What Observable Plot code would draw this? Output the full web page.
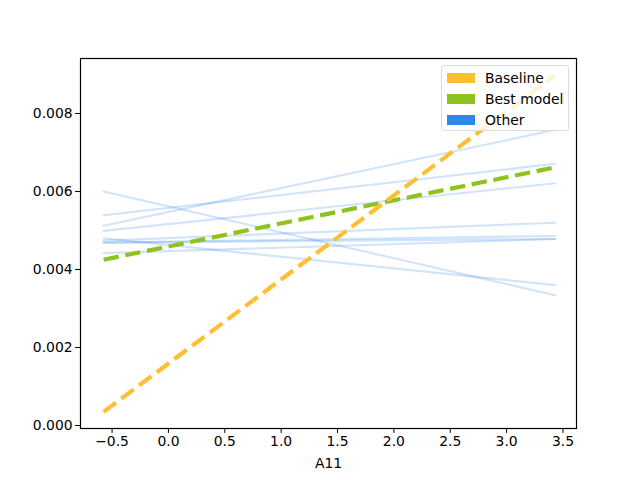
<!DOCTYPE html>
<html><head><meta charset="utf-8">
<script src="https://cdn.jsdelivr.net/npm/d3@7"></script>
<script src="https://cdn.jsdelivr.net/npm/@observablehq/plot@0.6"></script>
<style>
body{margin:0;background:#fff;font-family:"DejaVu Sans",sans-serif;}
#wrap{position:relative;width:640px;height:480px;}
#legend{position:absolute;left:441px;top:65px;width:128px;height:66px;background:rgba(255,255,255,0.8);border:1px solid #dcdcdc;border-radius:3px;box-sizing:border-box;font-size:13.9px;color:#000;}
.row{position:absolute;left:5px;display:flex;align-items:center;}
.sw{width:28px;height:10px;margin-right:10px;}
</style></head>
<body><div id="wrap"><div id="legend"></div></div>
<script>
const xStart = -0.575, xEnd = 3.43;
const seriesNames = ["Baseline","Best model","o1","o2","o3","o4","o5","o6","o7","o8","o9"];
const groups = ["Baseline","Best model","Other","Other","Other","Other","Other","Other","Other","Other","Other"];
const startVals = [0.00035, 0.00425, 0.00600, 0.00539, 0.00512, 0.00499, 0.00474, 0.00480, 0.00469, 0.00469, 0.00442];
const endVals   = [0.00898, 0.00662, 0.00334, 0.00671, 0.00758, 0.00621, 0.00520, 0.00360, 0.00486, 0.00478, 0.00478];
const legendLabels = ["Baseline","Best model","Other"];
const legendColors = ["#ffbf33","#8ec31f","#2e86e6"];
const xTicks = [-0.5,0,0.5,1,1.5,2,2.5,3,3.5];
const yTicks = [0,0.002,0.004,0.006,0.008];

const rows = [];
seriesNames.forEach((s,i)=>{
  rows.push({s, g:groups[i], x:xStart, y:startVals[i]});
  rows.push({s, g:groups[i], x:xEnd, y:endVals[i]});
});
const others = rows.filter(d=>d.g==="Other");
const base = rows.filter(d=>d.g==="Baseline");
const best = rows.filter(d=>d.g==="Best model");

const chart = Plot.plot({
  width:640, height:480,
  marginLeft:80, marginRight:64, marginTop:58, marginBottom:52,
  style:{fontFamily:"DejaVu Sans, sans-serif", fontSize:"13.9px", color:"#000", background:"#fff"},
  x:{domain:[-0.78,3.62], ticks:xTicks, tickSize:4.9, tickPadding:3, tickFormat:d=>d3.format(".1f")(d).replace("-","\u2212"), label:"A11", labelAnchor:"center", labelArrow:"none", labelOffset:39},
  y:{domain:[-0.000077,0.00941], ticks:yTicks, tickSize:4.9, tickPadding:3, tickFormat:d3.format(".3f"), label:null},
  marks:[
    Plot.line(others,{x:"x",y:"y",z:"s",stroke:legendColors[2],strokeOpacity:0.22,strokeWidth:2.1}),
    Plot.line(best,{x:"x",y:"y",stroke:legendColors[1],strokeWidth:4.2,strokeDasharray:"15.4,6.7",strokeLinecap:"butt"}),
    Plot.line(base,{x:"x",y:"y",stroke:legendColors[0],strokeWidth:4.2,strokeDasharray:"15.4,6.7",strokeLinecap:"butt"}),
    Plot.frame({stroke:"#000",strokeWidth:1.2})
  ]
});
chart.style.position="absolute";chart.style.left="0";chart.style.top="0";
const wrap=document.getElementById("wrap");
wrap.insertBefore(chart, wrap.firstChild);
d3.select(chart).selectAll("[aria-label$='tick label'] text, [aria-label$='label'] text").attr("fill","#000");
const lg=document.getElementById("legend");
legendLabels.forEach((l,i)=>{
  const r=document.createElement("div");r.className="row";r.style.top=(4+i*21)+"px";
  r.innerHTML=`<div class="sw" style="background:${legendColors[i]}"></div><span>${l}</span>`;
  lg.appendChild(r);
});
</script></body></html>
